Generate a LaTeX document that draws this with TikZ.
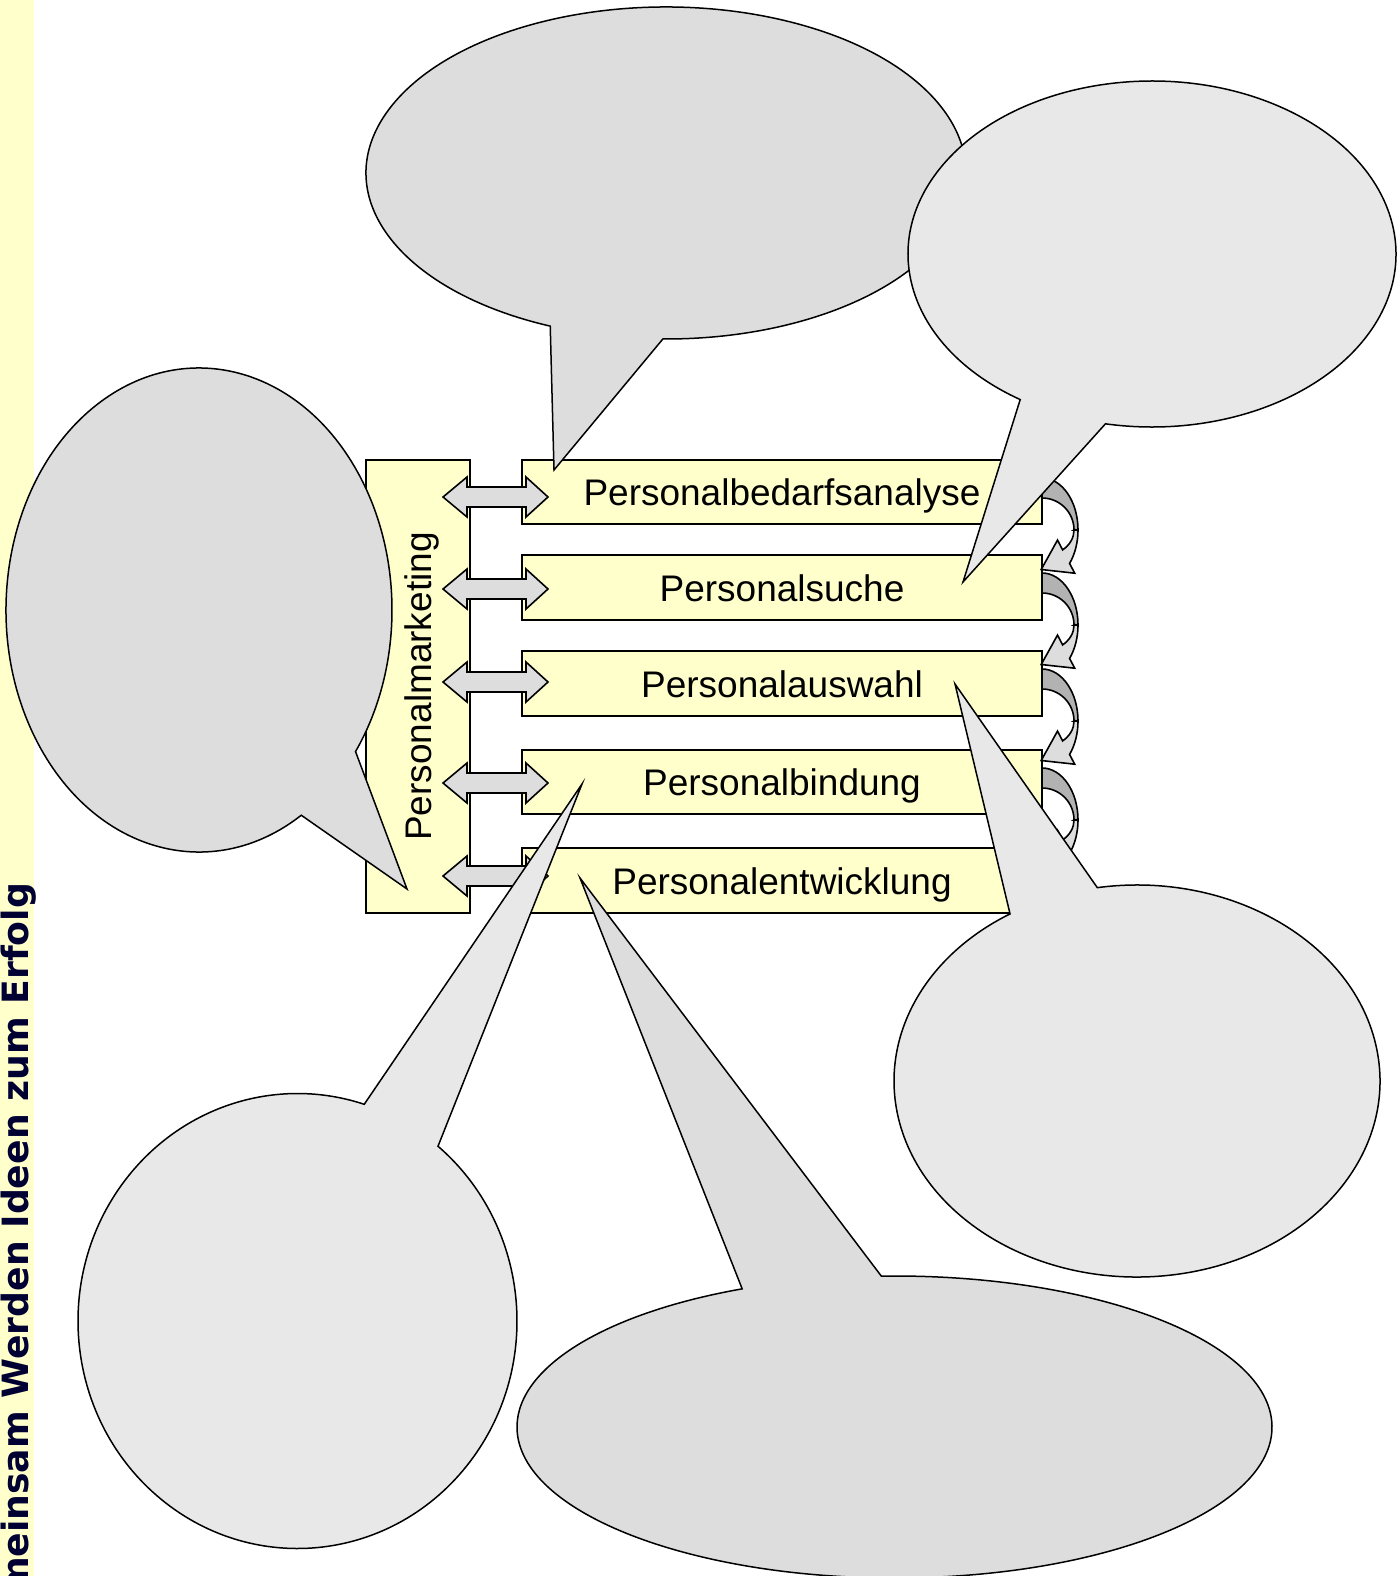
\documentclass[tikz,border=0pt]{standalone}
\usepackage{fontspec}
\setmainfont{Liberation Sans}
\newfontfamily\stripfont{DejaVu Sans}
\definecolor{boxyellow}{HTML}{FFFFCC}
\definecolor{grayA}{HTML}{DDDDDD}
\definecolor{grayB}{HTML}{E8E8E8}
\definecolor{grayDark}{HTML}{B2B2B2}
\definecolor{navy}{HTML}{000033}
\begin{document}
\begin{tikzpicture}[x=1pt,y=-1pt,line width=1.6pt,line join=miter,
  procbox/.style={draw=black,fill=boxyellow,inner sep=0pt,outer sep=0pt,minimum width=520pt,
    text height=27pt,text depth=0pt,font=\fontsize{37}{44}\selectfont},
  pmbox/.style={draw=black,fill=boxyellow,inner sep=0pt,outer sep=0pt,minimum width=104pt,minimum height=453pt},
  dblarrow/.style={draw=black,fill=grayA},
  backarc/.style={draw=black,fill=grayDark},
  frontarc/.style={draw=black,fill=grayA},
  bubble/.style={draw=black,line width=1.5pt}]
\useasboundingbox (0,0) rectangle (1397,1576);
\clip (0,0) rectangle (1397,1576);
\fill[white] (0,0) rectangle (1397,1576);
% left strip
\fill[boxyellow] (0,0) rectangle (34,1576);
\node[rotate=90,anchor=base east,inner sep=0pt,text=navy,font=\stripfont\bfseries\fontsize{36.2}{42}\selectfont] (motto) at (28,882) {Gemeinsam Werden Ideen zum Erfolg};
% Personalmarketing box
\node[pmbox] (pm) at (418,686.5) {};
\node[rotate=90,inner sep=0pt,text height=27pt,text depth=0pt,font=\fontsize{37}{44}\selectfont] (pmtext) at (pm.center) {Personalmarketing};
% process boxes
\node[procbox,minimum height=64pt] (b1) at (782,492) {Personalbedarfsanalyse};
\node[procbox,minimum height=65pt] (b2) at (782,587.5) {Personalsuche};
\node[procbox,minimum height=65pt] (b3) at (782,683.5) {Personalauswahl};
\node[procbox,minimum height=64pt] (b4) at (782,782) {Personalbindung};
\node[procbox,minimum height=65pt] (b5) at (782,880.5) {Personalentwicklung};
% double arrows between pm and boxes
\foreach \c in {497,589,682,783,876}{
  \filldraw[dblarrow] (443,\c) -- (467,\c-20) -- (467,\c-10) -- (526,\c-10) -- (526,\c-20)
    -- (548,\c) -- (526,\c+20) -- (526,\c+10) -- (467,\c+10) -- (467,\c+20) -- cycle;
}
% curved arrows on the right
\foreach \T in {460,555,651,750}{
  \filldraw[backarc] (1042,\T+18) arc[start angle=-90,end angle=0,x radius=36,y radius=52]
    -- (1074,\T+70) arc[start angle=0,end angle=-90,x radius=32,y radius=32] -- cycle;
  \filldraw[frontarc] (1074,\T+70) -- (1078,\T+70)
    arc[start angle=0,end angle=40,x radius=36,y radius=52]
    -- (1074.7,\T+113.2) -- (1041.2,\T+109.5) -- (1057.5,\T+80.1) -- (1062.6,\T+89.9)
    arc[start angle=50,end angle=0,x radius=32,y radius=26] -- cycle;
}
% speech bubbles
\filldraw[bubble,fill=grayA] (666,173) ++(112.7:300 and 166)
  arc[start angle=112.7,end angle=450.6,x radius=300,y radius=166] -- (554,470) -- cycle;
\filldraw[bubble,fill=grayB] (1152,254) ++(122.7:244 and 173)
  arc[start angle=122.7,end angle=461,x radius=244,y radius=173] -- (963,582) -- cycle;
\filldraw[bubble,fill=grayA] (199,610) ++(58:193 and 242)
  arc[start angle=58,end angle=395.8,x radius=193,y radius=242] -- (407,889) -- cycle;
\filldraw[bubble,fill=grayB] (1137,1081) ++(260.6:243 and 196)
  arc[start angle=260.6,end angle=598.5,x radius=243,y radius=196] -- (955,684) -- cycle;
\filldraw[bubble,fill=grayB] (297.5,1321) ++(-50.2:219.5 and 227.5)
  arc[start angle=-50.2,end angle=287.7,x radius=219.5,y radius=227.5] -- (582,784) -- cycle;
\filldraw[bubble,fill=grayA] (894.5,1427) ++(-92:377.5 and 151)
  arc[start angle=-92,end angle=246.2,x radius=377.5,y radius=151] -- (580,878) -- cycle;
\end{tikzpicture}
\end{document}
